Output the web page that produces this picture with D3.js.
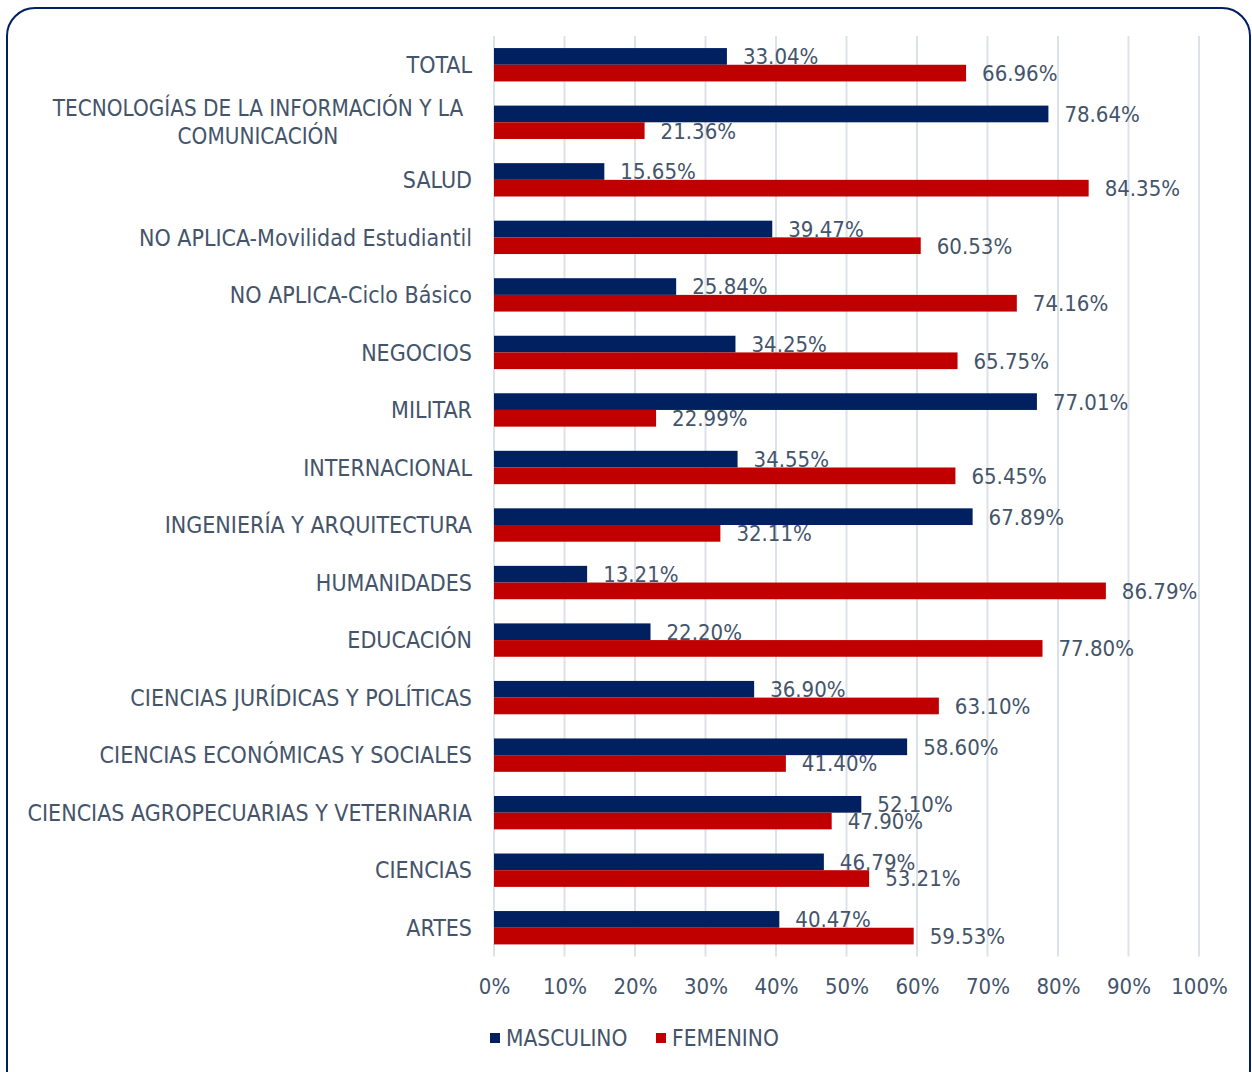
<!DOCTYPE html>
<html>
<head>
<meta charset="utf-8">
<script src="https://cdn.jsdelivr.net/npm/d3@7/dist/d3.min.js"></script>
<style>
  body { margin: 0; background: #fff; }
  svg text { font-family: "Liberation Sans Narrow", "DejaVu Sans Condensed", sans-serif; fill: #44546A; }
</style>
</head>
<body>
<div id="chart"></div>
<script>
var width = 1252;
var height = 1072;

// categories top to bottom
var categories = [
  "TOTAL",
  "TECNOLOGÍAS DE LA INFORMACIÓN Y LA|COMUNICACIÓN",
  "SALUD",
  "NO APLICA-Movilidad Estudiantil",
  "NO APLICA-Ciclo Básico",
  "NEGOCIOS",
  "MILITAR",
  "INTERNACIONAL",
  "INGENIERÍA Y ARQUITECTURA",
  "HUMANIDADES",
  "EDUCACIÓN",
  "CIENCIAS JURÍDICAS Y POLÍTICAS",
  "CIENCIAS ECONÓMICAS Y SOCIALES",
  "CIENCIAS AGROPECUARIAS Y VETERINARIA",
  "CIENCIAS",
  "ARTES"
];
var masculino = [33.04, 78.64, 15.65, 39.47, 25.84, 34.25, 77.01, 34.55, 67.89, 13.21, 22.20, 36.90, 58.60, 52.10, 46.79, 40.47];
var femenino  = [66.96, 21.36, 84.35, 60.53, 74.16, 65.75, 22.99, 65.45, 32.11, 86.79, 77.80, 63.10, 41.40, 47.90, 53.21, 59.53];
var seriesNames = ["MASCULINO", "FEMENINO"];
var colors = ["#002060", "#C00000"];
var ticks = [0, 10, 20, 30, 40, 50, 60, 70, 80, 90, 100];

var rows = categories.map(function (c, i) {
  return { cat: c, values: [masculino[i], femenino[i]] };
});

var svg = d3.select("#chart").append("svg")
  .attr("width", width)
  .attr("height", height);

// frame
svg.append("rect")
  .attr("x", 7).attr("y", 8)
  .attr("width", 1243).attr("height", 1090)
  .attr("rx", 28).attr("ry", 28)
  .attr("fill", "none")
  .attr("stroke", "#002060")
  .attr("stroke-width", 2);

var xScale = d3.scaleLinear().domain([0, 100]).range([494, 1199]);
var yScale = d3.scaleBand().domain(categories).range([36, 956.5]).paddingInner(0.42).paddingOuter(0.21);
var inner = d3.scaleBand().domain([0, 1]).range([0, yScale.bandwidth()]);

// gridlines
svg.append("g").selectAll("line")
  .data(ticks)
  .enter().append("line")
  .attr("x1", function (d) { return xScale(d); })
  .attr("x2", function (d) { return xScale(d); })
  .attr("y1", 36).attr("y2", 956.5)
  .attr("stroke", "#DDE1E8")
  .attr("stroke-width", 2);

// x axis
var xAxis = d3.axisBottom(xScale).tickValues(ticks).tickSize(0).tickPadding(0)
  .tickFormat(function (d) { return d + "%"; });
var gx = svg.append("g").attr("transform", "translate(0,994)").call(xAxis);
gx.select(".domain").remove();
gx.selectAll("text").attr("font-size", 22).attr("dy", 0).attr("fill", "#44546A");

// bars
var groups = svg.append("g").selectAll("g")
  .data(rows)
  .enter().append("g")
  .attr("transform", function (d) { return "translate(0," + yScale(d.cat) + ")"; });

groups.selectAll("rect")
  .data(function (d) { return d.values; })
  .enter().append("rect")
  .attr("x", xScale(0))
  .attr("y", function (d, i) { return inner(i); })
  .attr("width", function (d) { return xScale(d) - xScale(0); })
  .attr("height", inner.bandwidth())
  .attr("fill", function (d, i) { return colors[i]; });

groups.selectAll("text.val")
  .data(function (d) { return d.values; })
  .enter().append("text")
  .attr("class", "val")
  .attr("x", function (d) { return xScale(d) + 16; })
  .attr("y", function (d, i) { return inner(i) + inner.bandwidth() / 2; })
  .attr("dy", "0.36em")
  .attr("font-size", 22)
  .text(function (d) { return d.toFixed(2) + "%"; });

// category labels
var labels = svg.append("g").selectAll("text")
  .data(categories)
  .enter().append("text")
  .attr("font-size", 23)
  .attr("y", function (d) { return yScale(d) + yScale.bandwidth() / 2; });

labels.each(function (d) {
  var parts = d.split("|");
  var t = d3.select(this);
  if (parts.length === 1) {
    t.attr("x", 472).attr("text-anchor", "end").attr("dy", "0.36em").text(d);
  } else {
    // two-line label, centred
    t.attr("text-anchor", "middle").attr("font-size", 22.3);
    parts.forEach(function (p, i) {
      t.append("tspan")
        .attr("x", 258)
        .attr("dy", i === 0 ? "-0.28em" : "1.27em")
        .text(p);
    });
  }
});

// legend
var legend = svg.append("g").attr("transform", "translate(490,1038)");
var legendX = [0, 166];
seriesNames.forEach(function (name, i) {
  var g = legend.append("g").attr("transform", "translate(" + legendX[i] + ",0)");
  g.append("rect").attr("x", 0).attr("y", -5).attr("width", 10).attr("height", 10).attr("fill", colors[i]);
  g.append("text").attr("x", 16).attr("dy", "0.36em").attr("font-size", 22.5).text(name);
});
</script>
</body>
</html>
